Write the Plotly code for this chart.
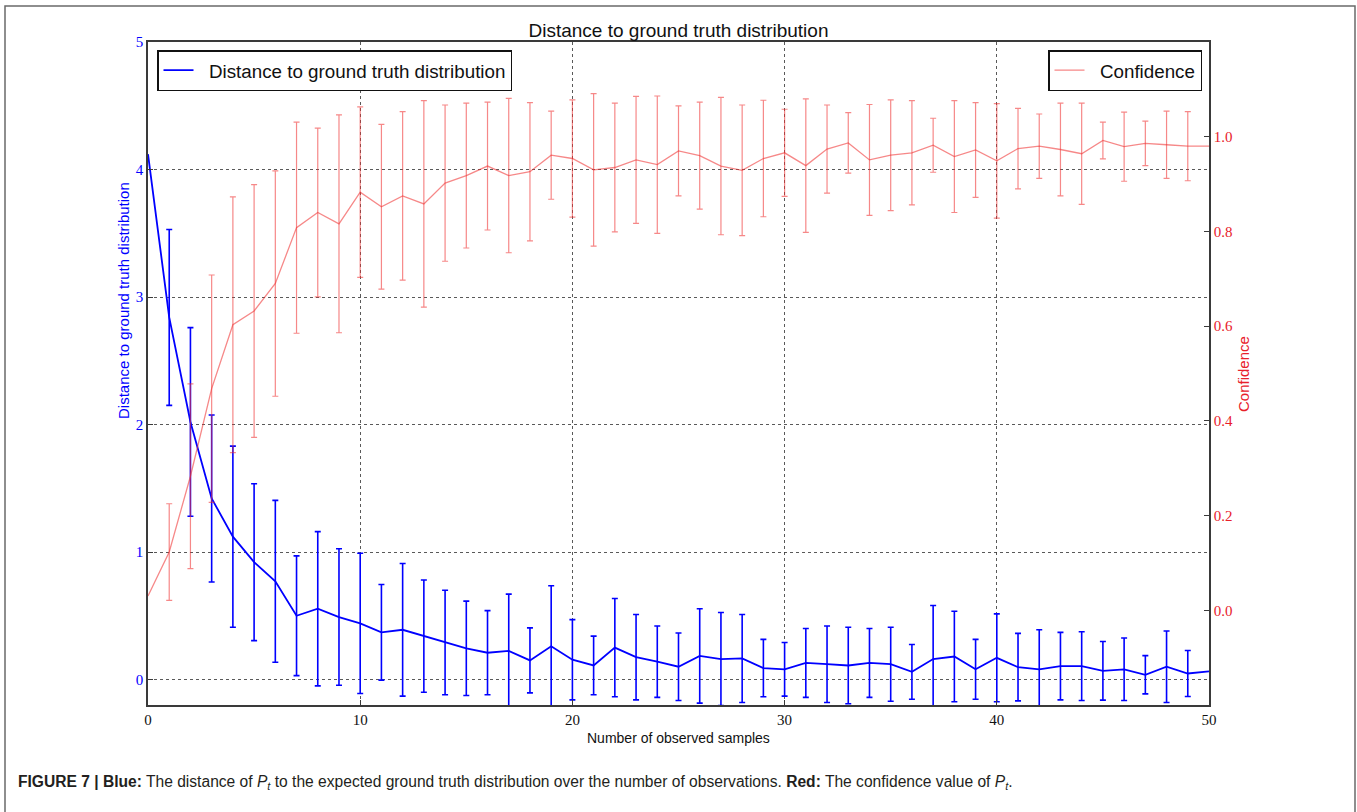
import plotly.graph_objects as go

# ---------------- data ----------------
x_samples = list(range(0, 51))
err_x = list(range(1, 50))

distance_mean = [4.12, 2.84, 2.02, 1.42, 1.12, 0.92, 0.77, 0.50, 0.555, 0.49,
                 0.44, 0.37, 0.39, 0.34, 0.29, 0.245, 0.21, 0.225, 0.15, 0.26,
                 0.155, 0.11, 0.25, 0.175, 0.14, 0.10, 0.185, 0.16, 0.165, 0.09,
                 0.08, 0.13, 0.12, 0.11, 0.13, 0.12, 0.06, 0.16, 0.18, 0.08,
                 0.17, 0.097, 0.08, 0.105, 0.105, 0.068, 0.08, 0.037, 0.10, 0.047,
                 0.063]
distance_err = [0.69, 0.74, 0.655, 0.71, 0.615, 0.635, 0.47, 0.605, 0.535,
                0.55, 0.375, 0.52, 0.44, 0.41, 0.37, 0.33, 0.445, 0.255, 0.475,
                0.315, 0.23, 0.385, 0.335, 0.28, 0.265, 0.37, 0.365, 0.345, 0.225,
                0.21, 0.27, 0.30, 0.30, 0.27, 0.29, 0.215, 0.42, 0.355, 0.235,
                0.345, 0.265, 0.31, 0.265, 0.27, 0.23, 0.245, 0.15, 0.28, 0.18]

confidence_mean = [0.03, 0.123, 0.283, 0.468, 0.603, 0.632, 0.69, 0.808, 0.84, 0.816,
                   0.883, 0.852, 0.875, 0.858, 0.902, 0.918, 0.938, 0.918, 0.926, 0.961,
                   0.954, 0.93, 0.935, 0.951, 0.941, 0.97, 0.96, 0.938, 0.929, 0.954,
                   0.966, 0.939, 0.974, 0.987, 0.951, 0.961, 0.966, 0.982, 0.958, 0.972,
                   0.949, 0.975, 0.98, 0.973, 0.964, 0.992, 0.979, 0.986, 0.983, 0.98,
                   0.98]
confidence_err = [0.102, 0.195, 0.24, 0.27, 0.267, 0.238, 0.223, 0.178, 0.23,
                  0.18, 0.174, 0.178, 0.218, 0.165, 0.153, 0.135, 0.163, 0.146, 0.093,
                  0.124, 0.161, 0.136, 0.134, 0.145, 0.095, 0.113, 0.145, 0.138, 0.123,
                  0.092, 0.141, 0.093, 0.064, 0.117, 0.117, 0.11, 0.057, 0.118, 0.1,
                  0.121, 0.085, 0.068, 0.098, 0.107, 0.039, 0.073, 0.047, 0.071, 0.073]

x_ticks = [0, 10, 20, 30, 40, 50]
left_ticks = [0, 1, 2, 3, 4, 5]
right_ticks = [0.0, 0.2, 0.4, 0.6, 0.8, 1.0]
right_ticktext = ["0.0", "0.2", "0.4", "0.6", "0.8", "1.0"]

title_text = "Distance to ground truth distribution"
blue_name = "Distance to ground truth distribution"
red_name = "Confidence"
x_title = "Number of observed samples"
caption = ("<b>FIGURE 7 | Blue:</b> The distance of <i>P</i><sub><i>t</i></sub> to the expected "
           "ground truth distribution over the number of observations. <b>Red:</b> The confidence "
           "value of <i>P</i><sub><i>t</i></sub>.")

# ---------------- style ----------------
BLUE = "#0000ff"
RED = "rgba(240,50,50,0.58)"
RED_TXT = "#e8202a"
SERIF = "Liberation Serif"
SANS = "Liberation Sans"
SPINE = "#3a3a3a"
GRID = "rgba(60,60,60,0.85)"
PAD = "\u00a0\u00a0"

W, H = 1357, 812
ML, MR, MT, MB = 148, 148, 42, 107
PW, PH = W - ML - MR, H - MT - MB


def px(xpix):
    return (xpix - ML) / PW


def py(ypix):
    return (H - MB - ypix) / PH


fig = go.Figure()

fig.add_trace(go.Scatter(
    x=x_samples, y=distance_mean, mode="lines", name=PAD + blue_name,
    line=dict(color=BLUE, width=1.8), yaxis="y", legend="legend"))
fig.add_trace(go.Scatter(
    x=err_x, y=distance_mean[1:50], mode="markers", showlegend=False,
    marker=dict(size=2, opacity=0, color=BLUE), yaxis="y",
    error_y=dict(type="data", array=distance_err, color=BLUE, thickness=1.6, width=3)))

fig.add_trace(go.Scatter(
    x=x_samples, y=confidence_mean, mode="lines", name=PAD + red_name,
    line=dict(color=RED, width=1.3), yaxis="y2", legend="legend2"))
fig.add_trace(go.Scatter(
    x=err_x, y=confidence_mean[1:50], mode="markers", showlegend=False,
    marker=dict(size=2, opacity=0, color=RED), yaxis="y2",
    error_y=dict(type="data", array=confidence_err, color=RED, thickness=1.2, width=3)))

fig.update_layout(
    width=W, height=H,
    margin=dict(l=ML, r=MR, t=MT, b=MB),
    paper_bgcolor="white", plot_bgcolor="white",
    showlegend=True,
    title=dict(text=title_text, x=0.5, xref="paper", xanchor="center",
               y=1 - 30 / H, yref="container", yanchor="middle",
               font=dict(family=SANS, size=19, color="#111")),
    xaxis=dict(range=[0, 50], tickvals=x_ticks, showgrid=True, gridcolor=GRID,
               griddash="dot", gridwidth=1, zeroline=False,
               showline=True, linecolor=SPINE, linewidth=1.6, mirror=True,
               ticks="inside", ticklen=5, tickcolor=SPINE,
               tickfont=dict(family=SERIF, size=15, color="#111")),
    yaxis=dict(range=[-0.2, 5], tickvals=left_ticks, showgrid=True, gridcolor=GRID,
               griddash="dot", gridwidth=1, zeroline=False,
               showline=True, linecolor=SPINE, linewidth=1.6,
               ticks="inside", ticklen=5, tickcolor=SPINE,
               tickfont=dict(family=SERIF, size=15, color=BLUE)),
    yaxis2=dict(range=[-0.2, 1.2], tickvals=right_ticks, ticktext=right_ticktext,
                overlaying="y", side="right", showgrid=False, zeroline=False,
                showline=True, linecolor=SPINE, linewidth=1.6,
                ticks="inside", ticklen=5, tickcolor=SPINE,
                tickfont=dict(family=SERIF, size=15, color=RED_TXT)),
    legend=dict(x=px(157), y=py(50), xanchor="left", yanchor="top",
                bordercolor="#111", borderwidth=1.5, bgcolor="white",
                font=dict(family=SANS, size=18.8, color="#111")),
    legend2=dict(x=px(1202), y=py(50), xanchor="right", yanchor="top",
                 bordercolor="#111", borderwidth=1.5, bgcolor="white",
                 font=dict(family=SANS, size=18.8, color="#111")),
)

annotations = [
    dict(text=x_title, x=0.5, y=py(738), xref="paper", yref="paper",
         xanchor="center", yanchor="middle", showarrow=False,
         font=dict(family=SANS, size=14, color="#111")),
    dict(text=blue_name, x=px(123), y=py(301), xref="paper", yref="paper",
         xanchor="center", yanchor="middle", showarrow=False, textangle=-90,
         font=dict(family=SANS, size=15, color=BLUE)),
    dict(text=red_name, x=px(1243), y=py(374), xref="paper", yref="paper",
         xanchor="center", yanchor="middle", showarrow=False, textangle=-90,
         font=dict(family=SANS, size=15, color=RED_TXT)),
    dict(text=caption, x=px(16), y=py(782), xref="paper", yref="paper",
         xanchor="left", yanchor="middle", showarrow=False, align="left",
         font=dict(family=SANS, size=15.6, color="#231f20")),
]
fig.update_layout(annotations=annotations)

fig.add_shape(type="path", xref="paper", yref="paper",
              path=f"M {px(5)},{py(812)} L {px(5)},{py(6)} L {px(1355)},{py(6)} L {px(1355)},{py(812)}",
              line=dict(color="#6a6a6a", width=1.5))

fig.write_html("out.html")
